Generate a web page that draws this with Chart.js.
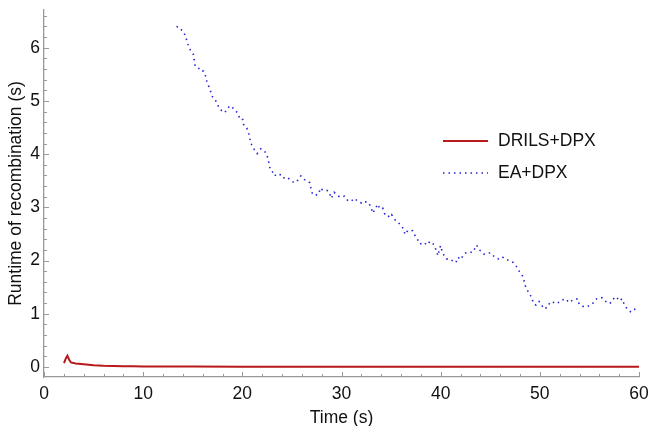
<!DOCTYPE html>
<html>
<head>
<meta charset="utf-8">
<script src="https://cdn.jsdelivr.net/npm/chart.js@4.4.1/dist/chart.umd.min.js"></script>
<style>
  html, body { margin: 0; padding: 0; background: #fff; }
  canvas { display: block; }
</style>
</head>
<body>
<canvas id="runtimeChart" width="649" height="426"></canvas>
<script>
// DRILS+DPX (red, solid)
const drilsTime = [2.02, 2.2, 2.36, 2.55, 2.72, 3.2, 4.0, 5.0, 6.0, 7.0, 8.0, 9.0, 10, 15, 20, 30, 40, 50, 60];
const drilsRuntime = [0.07, 0.16, 0.21, 0.13, 0.085, 0.065, 0.05, 0.033, 0.022, 0.016, 0.012, 0.01, 0.008, 0.006, 0.005, 0.005, 0.005, 0.005, 0.005];

// EA+DPX (blue, dotted)
const eaTime = [13.36, 13.69, 13.97, 14.27, 14.4, 14.6, 14.83, 15.08, 15.14, 15.24, 15.54, 15.81, 16.08, 16.29, 16.42, 16.62, 16.82, 16.99, 17.3, 17.56,
  17.76, 18.23, 18.44, 18.74, 19.04, 19.37, 19.62, 19.75, 20.05, 20.15, 20.45, 20.65, 20.76, 20.93, 21.19, 21.49, 21.87, 22.2, 22.44, 22.57,
  22.7, 22.81, 23.01, 23.25, 23.48, 23.89, 24.12, 24.46, 24.82, 25.23, 25.6, 25.9, 26.28, 26.64, 26.81, 26.91, 27.04, 27.32, 27.75, 27.82,
  28.15, 28.53, 28.8, 28.93, 29.1, 29.26, 29.57, 29.84, 30.31, 30.65, 31.02, 31.25, 31.69, 32.03, 32.23, 32.73, 33.0, 33.14, 33.44, 33.64,
  33.87, 34.15, 34.28, 34.41, 34.65, 34.88, 35.06, 35.32, 35.69, 36.0, 36.27, 36.4, 36.67, 36.8, 37.17, 37.41, 37.68, 37.91, 38.35, 38.59,
  38.92, 39.32, 39.53, 39.73, 39.86, 40.0, 40.13, 40.33, 40.58, 40.89, 41.24, 41.54, 41.75, 42.05, 42.32, 42.52, 42.96, 43.19, 43.46, 43.63,
  43.87, 44.07, 44.37, 44.77, 45.08, 45.41, 45.81, 46.19, 46.52, 46.99, 47.33, 47.63, 47.87, 48.2, 48.38, 48.48, 48.71, 48.91, 49.21, 49.31,
  49.61, 49.92, 50.19, 50.42, 50.83, 51.03, 51.43, 51.74, 52.14, 52.61, 52.92, 53.35, 53.82, 53.96, 54.43, 54.73, 55.07, 55.44, 55.74, 56.25,
  56.55, 57.08, 57.29, 57.72, 57.99, 58.3, 58.5, 58.77, 59.13, 59.4, 59.88];
const eaRuntime = [6.40, 6.38, 6.31, 6.23, 6.13, 6.02, 5.93, 5.87, 5.77, 5.66, 5.63, 5.56, 5.56, 5.47, 5.37, 5.27, 5.17, 5.08, 5.01, 4.91,
  4.84, 4.78, 4.84, 4.91, 4.87, 4.81, 4.74, 4.65, 4.65, 4.54, 4.49, 4.39, 4.29, 4.18, 4.09, 4.01, 4.10, 4.06, 4.01, 3.92,
  3.82, 3.71, 3.68, 3.59, 3.63, 3.61, 3.55, 3.57, 3.52, 3.46, 3.51, 3.59, 3.52, 3.49, 3.46, 3.37, 3.27, 3.22, 3.26, 3.36,
  3.32, 3.32, 3.28, 3.17, 3.21, 3.28, 3.23, 3.19, 3.21, 3.12, 3.12, 3.17, 3.11, 3.08, 3.11, 3.09, 2.99, 2.89, 2.98, 3.06,
  2.98, 2.99, 2.92, 2.85, 2.85, 2.81, 2.86, 2.78, 2.72, 2.66, 2.59, 2.49, 2.56, 2.57, 2.56, 2.47, 2.39, 2.31, 2.34, 2.29,
  2.36, 2.30, 2.20, 2.09, 2.21, 2.28, 2.18, 2.10, 2.03, 2.03, 1.99, 1.96, 2.06, 2.02, 2.12, 2.14, 2.16, 2.15, 2.23, 2.29,
  2.20, 2.18, 2.12, 2.14, 2.14, 2.07, 2.03, 2.07, 2.03, 1.99, 1.96, 1.89, 1.81, 1.73, 1.65, 1.54, 1.46, 1.37, 1.31, 1.21,
  1.16, 1.23, 1.16, 1.09, 1.13, 1.22, 1.21, 1.19, 1.25, 1.28, 1.21, 1.26, 1.28, 1.18, 1.13, 1.13, 1.16, 1.21, 1.28, 1.30,
  1.24, 1.19, 1.26, 1.32, 1.24, 1.28, 1.18, 1.10, 1.04, 1.09, 1.07];

// tick labels
const xTicks = [0, 10, 20, 30, 40, 50, 60];
const yTicks = [0, 1, 2, 3, 4, 5, 6];

const axisGray = "#999999";
const textColor = "#111111";
Chart.defaults.font.family = "'Liberation Sans', Arial, sans-serif";
Chart.defaults.font.size = 17.5;
Chart.defaults.color = textColor;

function toPoints(xs, ys) {
    return xs.map((x, i) => ({ x: x, y: ys[i] }));
}

/* inward ticks, like the original plot */
const insideTicks = {
    id: "insideTicks",
    afterDraw(chart) {
        const ctx = chart.ctx;
        const xs = chart.scales.x, ys = chart.scales.y;
        const area = chart.chartArea;
        ctx.save();
        ctx.strokeStyle = axisGray;
        ctx.lineWidth = 1;
        ctx.beginPath();
        for (let i = 0; i <= 30; i++) {
            const v = i * 2;
            const len = (i % 5 === 0) ? 5 : 3;
            const px = Math.round(xs.getPixelForValue(v)) + 0.5;
            ctx.moveTo(px, area.bottom);
            ctx.lineTo(px, area.bottom - len);
        }
        for (let i = 0; i <= 33; i++) {
            const v = i * 0.2;
            const len = (i % 5 === 0) ? 5 : 3;
            const py = Math.round(ys.getPixelForValue(v)) + 0.5;
            ctx.moveTo(area.left, py);
            ctx.lineTo(area.left + len, py);
        }
        ctx.stroke();
        ctx.restore();
    }
};

// legend drawn inside the plot
const innerLegend = {
    id: "innerLegend",
    afterDraw(chart) {
        const ctx = chart.ctx;
        const rows = [141, 173];
        ctx.save();
        chart.data.datasets.forEach((ds, i) => {
            const y = rows[i];
            ctx.strokeStyle = ds.borderColor;
            ctx.lineWidth = ds.borderWidth;
            ctx.setLineDash(ds.borderDash || []);
            ctx.beginPath();
            ctx.moveTo(443, y);
            ctx.lineTo(488, y);
            ctx.stroke();
            ctx.setLineDash([]);
            ctx.fillStyle = textColor;
            ctx.font = "17.5px 'Liberation Sans', Arial, sans-serif";
            ctx.textBaseline = "middle";
            ctx.fillText(ds.label, 498, y);
        });
        ctx.restore();
    }
};

const ctx = document.getElementById("runtimeChart").getContext("2d");
new Chart(ctx, {
    type: "scatter",
    data: {
        datasets: [{
            label: "DRILS+DPX",
            data: toPoints(drilsTime, drilsRuntime),
            showLine: true,
            borderColor: "#b8191b",
            borderWidth: 2,
            pointRadius: 0,
            tension: 0
        }, {
            label: "EA+DPX",
            data: toPoints(eaTime, eaRuntime),
            showLine: true,
            borderColor: "#2323d2",
            borderWidth: 1.6,
            borderDash: [1.5, 4],
            pointRadius: 0,
            tension: 0
        }]
    },
    options: {
        responsive: false,
        devicePixelRatio: 1,
        animation: false,
        layout: { padding: { top: 10, right: 10, left: 0, bottom: 0 } },
        plugins: {
            legend: { display: false },
            tooltip: { enabled: false }
        },
        scales: {
            x: {
                type: "linear",
                min: 0,
                max: 60,
                afterBuildTicks: scale => { scale.ticks = xTicks.map(v => ({ value: v })); },
                afterFit: scale => {
                    scale.height = 49;
                    scale.paddingLeft = 0;
                    scale.paddingRight = 0;
                },
                grid: { display: true, drawOnChartArea: false, drawTicks: false },
                border: { display: true, color: axisGray, width: 1.3 },
                ticks: { padding: 7, maxRotation: 0, autoSkip: false },
                title: {
                    display: true,
                    text: "Time (s)",
                    font: { size: 17.5, lineHeight: 1 },
                    padding: { top: 0, bottom: -1 }
                }
            },
            y: {
                type: "linear",
                min: -0.19,
                max: 6.71,
                afterBuildTicks: scale => { scale.ticks = yTicks.map(v => ({ value: v })); },
                afterFit: scale => {
                    scale.width = 44;
                    scale.paddingTop = 0;
                    scale.paddingBottom = 0;
                },
                grid: { display: true, drawOnChartArea: false, drawTicks: false },
                border: { display: true, color: axisGray, width: 1.3 },
                ticks: { padding: 4, autoSkip: false },
                title: {
                    display: true,
                    text: "Runtime of recombination (s)",
                    font: { size: 17.5, lineHeight: 1 },
                    padding: { top: 7, bottom: 0 }
                }
            }
        }
    },
    plugins: [insideTicks, innerLegend]
});
</script>
</body>
</html>
